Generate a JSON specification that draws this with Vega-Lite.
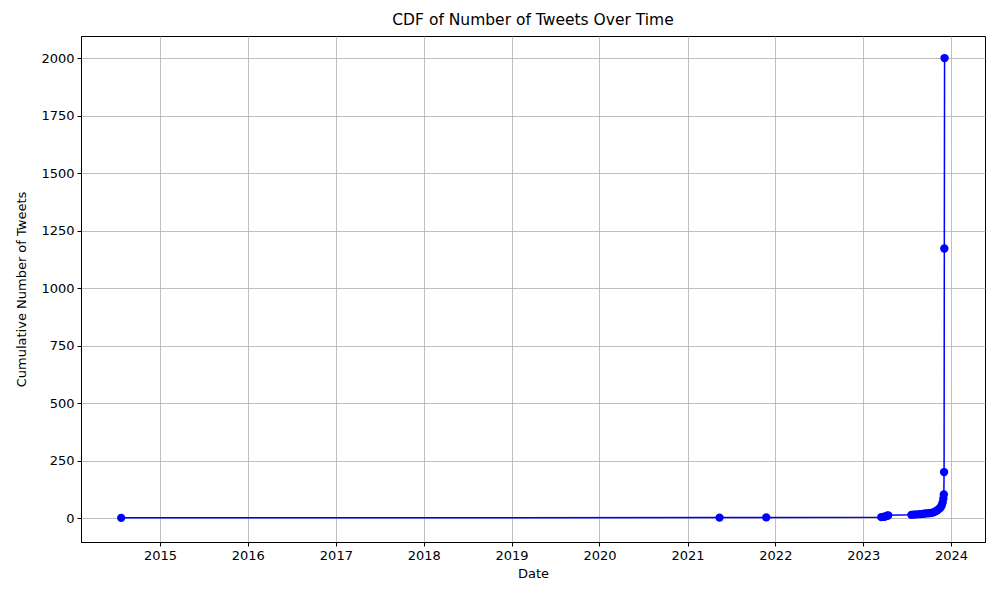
{
  "$schema": "https://vega.github.io/schema/vega-lite/v6.json",
  "autosize": {"type": "none"},
  "width": 904,
  "height": 506,
  "padding": {"left": 81, "top": 36, "right": 15, "bottom": 58},
  "background": "white",
  "title": {"text": "CDF of Number of Tweets Over Time", "font": "DejaVu Sans", "fontSize": 15.5, "fontWeight": "normal", "color": "black", "offset": 8},
  "config": {
    "view": {"stroke": "black", "strokeWidth": 1},
    "axis": {"labelFont": "DejaVu Sans", "titleFont": "DejaVu Sans", "labelFontSize": 13, "titleFontSize": 13, "titleFontWeight": "normal", "labelColor": "black", "titleColor": "black", "tickColor": "black", "tickSize": 4, "domainColor": "black", "gridColor": "#b0b0b0", "gridWidth": 0.8, "gridOpacity": 1}
  },
  "data": {"values": [
    {"date": "2014-07-24", "cum": 1},
    {"date": "2021-05-14", "cum": 2},
    {"date": "2021-11-24", "cum": 3},
    {"date": "2023-03-17", "cum": 4},
    {"date": "2023-03-25", "cum": 5},
    {"date": "2023-04-02", "cum": 7},
    {"date": "2023-04-11", "cum": 10},
    {"date": "2023-04-15", "cum": 12},
    {"date": "2023-07-20", "cum": 14},
    {"date": "2023-07-30", "cum": 15},
    {"date": "2023-08-10", "cum": 16},
    {"date": "2023-08-23", "cum": 17},
    {"date": "2023-09-05", "cum": 18},
    {"date": "2023-09-16", "cum": 20},
    {"date": "2023-09-28", "cum": 21},
    {"date": "2023-10-10", "cum": 22},
    {"date": "2023-10-20", "cum": 25},
    {"date": "2023-10-28", "cum": 29},
    {"date": "2023-11-05", "cum": 34},
    {"date": "2023-11-12", "cum": 40},
    {"date": "2023-11-18", "cum": 46},
    {"date": "2023-11-23", "cum": 55},
    {"date": "2023-11-27", "cum": 68},
    {"date": "2023-11-30", "cum": 85},
    {"date": "2023-12-02", "cum": 103},
    {"date": "2023-12-03", "cum": 200},
    {"date": "2023-12-04", "cum": 1172},
    {"date": "2023-12-05", "cum": 2000}
  ]},
  "encoding": {
    "x": {"field": "date", "type": "temporal", "title": "Date",
      "scale": {"domain": ["2014-02-07", "2024-05-21"], "nice": false},
      "axis": {"format": "%Y", "tickCount": {"interval": "year", "step": 1}, "labelAngle": 0, "labelPadding": 3, "titlePadding": 5, "grid": true, "labelFlush": false}},
    "y": {"field": "cum", "type": "quantitative", "title": "Cumulative Number of Tweets",
      "scale": {"domain": [-104, 2096], "nice": false, "zero": false},
      "axis": {"values": [0, 250, 500, 750, 1000, 1250, 1500, 1750, 2000], "format": "d", "grid": true, "labelPadding": 3, "titlePadding": 12}}
  },
  "layer": [
    {"mark": {"type": "line", "color": "#0000ff", "strokeWidth": 1.5}},
    {"mark": {"type": "point", "filled": true, "color": "#0000ff", "size": 70, "opacity": 1}}
  ]
}
